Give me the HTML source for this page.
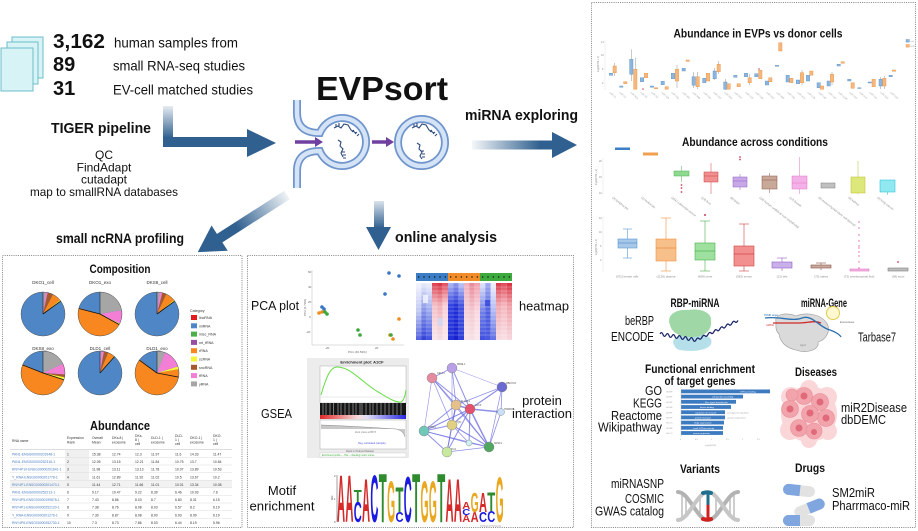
<!DOCTYPE html>
<html><head><meta charset="utf-8"><style>
html,body{margin:0;padding:0;background:#fff;}
svg{display:block;font-family:"Liberation Sans",Arial,sans-serif;}
</style></head><body>
<svg width="918" height="531" viewBox="0 0 918 531" xmlns="http://www.w3.org/2000/svg">
<defs>
<linearGradient id="gv" gradientUnits="userSpaceOnUse" x1="0" y1="106" x2="0" y2="138"><stop offset="0" stop-color="#30608f" stop-opacity="0.12"/><stop offset="1" stop-color="#30608f"/></linearGradient>
<linearGradient id="gr" gradientUnits="userSpaceOnUse" x1="472" y1="0" x2="540" y2="0"><stop offset="0" stop-color="#30608f" stop-opacity="0.05"/><stop offset="1" stop-color="#30608f"/></linearGradient>
<linearGradient id="gd" gradientUnits="userSpaceOnUse" x1="0" y1="200" x2="0" y2="228"><stop offset="0" stop-color="#30608f" stop-opacity="0.15"/><stop offset="1" stop-color="#30608f"/></linearGradient>
<linearGradient id="gdi" gradientUnits="userSpaceOnUse" x1="0" y1="0" x2="60" y2="0"><stop offset="0" stop-color="#30608f" stop-opacity="0.08"/><stop offset="1" stop-color="#30608f"/></linearGradient>
<linearGradient id="rb" x1="0" y1="0" x2="1" y2="0"><stop offset="0" stop-color="#e02828"/><stop offset="0.45" stop-color="#f6dede"/><stop offset="0.55" stop-color="#dedef6"/><stop offset="1" stop-color="#2828e0"/></linearGradient>
<linearGradient id="h0" x1="0" y1="0" x2="0" y2="1"><stop offset="0" stop-color="#f5f5ff"/><stop offset=".5" stop-color="#c0c8f0"/><stop offset="1" stop-color="#5060e0"/></linearGradient>
<linearGradient id="h1" x1="0" y1="0" x2="0" y2="1"><stop offset="0" stop-color="#e8ecfa"/><stop offset=".5" stop-color="#8090e8"/><stop offset="1" stop-color="#3040d8"/></linearGradient>
<linearGradient id="h2" x1="0" y1="0" x2="0" y2="1"><stop offset="0" stop-color="#f0f0f8"/><stop offset=".5" stop-color="#9aa8ee"/><stop offset="1" stop-color="#4050e0"/></linearGradient>
<linearGradient id="h3" x1="0" y1="0" x2="0" y2="1"><stop offset="0" stop-color="#e04050"/><stop offset=".4" stop-color="#f4c0c8"/><stop offset="1" stop-color="#f8e8ec"/></linearGradient>
<linearGradient id="h4" x1="0" y1="0" x2="0" y2="1"><stop offset="0" stop-color="#d83040"/><stop offset=".4" stop-color="#f0b0b8"/><stop offset="1" stop-color="#f4e0e8"/></linearGradient>
<linearGradient id="h5" x1="0" y1="0" x2="0" y2="1"><stop offset="0" stop-color="#e05060"/><stop offset=".4" stop-color="#f8d0d8"/><stop offset="1" stop-color="#fae8ee"/></linearGradient>
<linearGradient id="h6" x1="0" y1="0" x2="0" y2="1"><stop offset="0" stop-color="#b0b8f0"/><stop offset=".4" stop-color="#3040e0"/><stop offset="1" stop-color="#2030d8"/></linearGradient>
<linearGradient id="h7" x1="0" y1="0" x2="0" y2="1"><stop offset="0" stop-color="#9098ec"/><stop offset=".4" stop-color="#2030d8"/><stop offset="1" stop-color="#1820d0"/></linearGradient>
<linearGradient id="h8" x1="0" y1="0" x2="0" y2="1"><stop offset="0" stop-color="#c0c8f4"/><stop offset=".4" stop-color="#4050e0"/><stop offset="1" stop-color="#3040d8"/></linearGradient>
<linearGradient id="h9" x1="0" y1="0" x2="0" y2="1"><stop offset="0" stop-color="#f0b0c0"/><stop offset=".5" stop-color="#f4d0d8"/><stop offset="1" stop-color="#f8e4ea"/></linearGradient>
<linearGradient id="h10" x1="0" y1="0" x2="0" y2="1"><stop offset="0" stop-color="#e88898"/><stop offset=".5" stop-color="#f4c8d0"/><stop offset="1" stop-color="#f6e0e6"/></linearGradient>
<linearGradient id="h11" x1="0" y1="0" x2="0" y2="1"><stop offset="0" stop-color="#f0a0b0"/><stop offset=".5" stop-color="#f8d8e0"/><stop offset="1" stop-color="#fae8ee"/></linearGradient>
<linearGradient id="h12" x1="0" y1="0" x2="0" y2="1"><stop offset="0" stop-color="#e0e4f8"/><stop offset=".5" stop-color="#7080e8"/><stop offset="1" stop-color="#4050e0"/></linearGradient>
<linearGradient id="h13" x1="0" y1="0" x2="0" y2="1"><stop offset="0" stop-color="#a0acf0"/><stop offset=".5" stop-color="#5060e0"/><stop offset="1" stop-color="#4858e0"/></linearGradient>
<linearGradient id="h14" x1="0" y1="0" x2="0" y2="1"><stop offset="0" stop-color="#f0f0fa"/><stop offset=".5" stop-color="#b0b8f0"/><stop offset="1" stop-color="#6070e4"/></linearGradient>
<linearGradient id="h15" x1="0" y1="0" x2="0" y2="1"><stop offset="0" stop-color="#d83848"/><stop offset=".4" stop-color="#f0a8b0"/><stop offset="1" stop-color="#f8dce2"/></linearGradient>
<linearGradient id="h16" x1="0" y1="0" x2="0" y2="1"><stop offset="0" stop-color="#e04858"/><stop offset=".4" stop-color="#f4b8c0"/><stop offset="1" stop-color="#f8e0e6"/></linearGradient>
<linearGradient id="h17" x1="0" y1="0" x2="0" y2="1"><stop offset="0" stop-color="#d83040"/><stop offset=".4" stop-color="#f0a0a8"/><stop offset="1" stop-color="#f6d8de"/></linearGradient>
</defs>
<rect width="918" height="531" fill="#fff"/>

<!-- ===== Top-left pages + stats ===== -->
<g stroke="#6cbcc8" stroke-width="1" fill="#d8f3f6">
<rect x="12" y="37" width="31" height="41"/>
<rect x="7" y="42" width="31" height="42"/>
<rect x="1" y="48" width="32" height="43"/>
</g>
<g fill="#111">
<text x="53" y="48" font-size="20" font-weight="bold" textLength="52" lengthAdjust="spacingAndGlyphs">3,162</text>
<text x="53" y="71" font-size="20" font-weight="bold">89</text>
<text x="53" y="95" font-size="20" font-weight="bold">31</text>
<text x="114" y="47.5" font-size="14" textLength="124" lengthAdjust="spacingAndGlyphs">human samples from</text>
<text x="113" y="70.5" font-size="14" textLength="132" lengthAdjust="spacingAndGlyphs">small RNA-seq studies</text>
<text x="113" y="94.5" font-size="14" textLength="140" lengthAdjust="spacingAndGlyphs">EV-cell matched studies</text>
<text x="51" y="133" font-size="15" font-weight="bold" textLength="100" lengthAdjust="spacingAndGlyphs">TIGER pipeline</text>
<g font-size="12" text-anchor="middle">
<text x="104" y="159">QC</text>
<text x="104" y="171.3">FindAdapt</text>
<text x="104" y="183.6">cutadapt</text>
<text x="104" y="196" textLength="148" lengthAdjust="spacingAndGlyphs">map to smallRNA databases</text>
</g>
<text x="56" y="243" font-size="14" font-weight="bold" textLength="128" lengthAdjust="spacingAndGlyphs">small ncRNA profiling</text>
<text x="316" y="100" font-size="33" font-weight="bold" textLength="132" lengthAdjust="spacingAndGlyphs">EVPsort</text>
<text x="465" y="120" font-size="14.5" font-weight="bold" textLength="113" lengthAdjust="spacingAndGlyphs">miRNA exploring</text>
<text x="395" y="242" font-size="14.5" font-weight="bold" textLength="102" lengthAdjust="spacingAndGlyphs">online analysis</text>
</g>

<!-- ===== Arrows ===== -->
<rect x="163" y="106" width="10" height="41" fill="url(#gv)"/>
<path d="M163,137 H249 V147 H168 Q163,147 163,142 Z" fill="#30608f"/>
<polygon points="247,129 276,143 247,157" fill="#30608f"/>
<rect x="472" y="140.5" width="82" height="9" fill="url(#gr)"/>
<polygon points="552,132 577,145 552,158" fill="#30608f"/>
<rect x="374" y="201" width="10" height="28" fill="url(#gd)"/>
<polygon points="366,227 391,227 378.5,250" fill="#30608f"/>
<g transform="translate(287,195) rotate(147.36)">
<rect x="0" y="-5" width="82" height="10" fill="url(#gdi)"/>
<polygon points="80,-15 106,0 80,15" fill="#30608f"/>
</g>

<!-- ===== Vesicles ===== -->
<g fill="none" stroke-linecap="butt">
<path d="M297,100 L297,113 Q297,133 319.8,133 A24,24 0 1 1 319.8,151 Q297,151 297,171 L297,188" stroke="#6f95cc" stroke-width="8"/>
<path d="M297,100 L297,113 Q297,133 319.8,133 A24,24 0 1 1 319.8,151 Q297,151 297,171 L297,188" stroke="#d4e3f6" stroke-width="4.5"/>
<circle cx="421.5" cy="142.5" r="23.5" stroke="#6f95cc" stroke-width="8"/>
<circle cx="421.5" cy="142.5" r="23.5" stroke="#d4e3f6" stroke-width="4.5"/>
</g>
<g stroke="#7040a0" stroke-width="3.5" fill="#7040a0">
<line x1="295" y1="142" x2="316" y2="142"/>
<polygon points="315,137 323,142 315,147" stroke="none"/>
<line x1="372" y1="142" x2="387" y2="142"/>
<polygon points="386,137 394,142 386,147" stroke="none"/>
</g>
<g stroke="#2c4a7c" stroke-width="1.1" fill="none">
<path d="M334,128 l4,-2 l3,2 l3,-4 l4,1 l3,5 l5,3"/>
<path d="M336,127 v-3 M339,126 v-3 M352,132 l2,-2 M355,134 l2,-2 M357,136 l2,-2"/>
<path d="M338,140 l3,2 l-1,4 l3,3 l-2,4 l2,4"/>
<path d="M343,158 h3 M343,155 h3 M342,152 h3"/>
<path d="M412,128 l4,-2 l3,2 l3,-4 l4,1 l3,5 l5,3"/>
<path d="M414,127 v-3 M417,126 v-3 M430,132 l2,-2 M433,134 l2,-2 M435,136 l2,-2"/>
<path d="M417,143 l3,2 l-1,4 l3,3 l-2,4 l2,3"/>
<path d="M422,157 h3 M422,154 h3 M421,151 h3"/>
</g>

<!-- ===== Panel borders ===== -->
<g fill="none" stroke="#858585" stroke-width="1" stroke-dasharray="1 1.2">
<rect x="2.5" y="255.5" width="239.5" height="272"/>
<rect x="247.5" y="255.5" width="326" height="272"/>
<rect x="591.5" y="2.5" width="324" height="525"/>
</g>

<!-- ===== Left panel: Composition ===== -->
<text x="120" y="273" font-size="12" font-weight="bold" text-anchor="middle" textLength="61" lengthAdjust="spacingAndGlyphs" fill="#111">Composition</text>
<g font-size="4.5" fill="#333" text-anchor="middle">
<text x="43" y="284">DKO1_cell</text><text x="100" y="284">DKO1_exo</text><text x="157" y="284">DKS8_cell</text>
<text x="43" y="350">DKS8_exo</text><text x="100" y="350">DLD1_cell</text><text x="157" y="350">DLD1_exo</text>
</g>
<g transform="translate(43,314)">
<circle r="22" fill="#4f86c6"/>
<g transform="rotate(-90)" fill="none" stroke-width="22">
<circle r="11" stroke="#a6a6a6" stroke-dasharray="1.382 70"/>
<circle r="11" stroke="#f27ed6" stroke-dasharray="1.037 70" stroke-dashoffset="-1.382"/>
<circle r="11" stroke="#a6592a" stroke-dasharray="2.765 70" stroke-dashoffset="-2.419"/>
<circle r="11" stroke="#f7871e" stroke-dasharray="4.492 70" stroke-dashoffset="-5.184"/>
<circle r="11" stroke="#f5f534" stroke-dasharray="0.691 70" stroke-dashoffset="-9.676"/>
</g>
<line x1="0" y1="0" x2="17.8" y2="-12.9" stroke="#111" stroke-width="0.8"/><line x1="0" y1="0" x2="0" y2="-22" stroke="#111" stroke-width="0.5"/>
<circle r="22" fill="none" stroke="#555" stroke-width="0.5"/>
</g>
<g transform="translate(100,314)">
<circle r="22" fill="#4f86c6"/>
<g transform="rotate(-90)" fill="none" stroke-width="22">
<circle r="11" stroke="#a6a6a6" stroke-dasharray="15.205 70"/>
<circle r="11" stroke="#f27ed6" stroke-dasharray="6.912 70" stroke-dashoffset="-15.205"/>
<circle r="11" stroke="#f5f534" stroke-dasharray="0.691 70" stroke-dashoffset="-22.117"/>
<circle r="11" stroke="#f7871e" stroke-dasharray="31.793 70" stroke-dashoffset="-22.808"/>
</g>
<line x1="0" y1="0" x2="-21.3" y2="-5.5" stroke="#111" stroke-width="0.8"/><line x1="0" y1="0" x2="19.3" y2="10.6" stroke="#111" stroke-width="0.8"/><line x1="0" y1="0" x2="0" y2="-22" stroke="#111" stroke-width="0.5"/>
<circle r="22" fill="none" stroke="#555" stroke-width="0.5"/>
</g>
<g transform="translate(157,314)">
<circle r="22" fill="#4f86c6"/>
<g transform="rotate(-90)" fill="none" stroke-width="22">
<circle r="11" stroke="#a6a6a6" stroke-dasharray="1.382 70"/>
<circle r="11" stroke="#f27ed6" stroke-dasharray="1.382 70" stroke-dashoffset="-1.382"/>
<circle r="11" stroke="#a6592a" stroke-dasharray="2.073 70" stroke-dashoffset="-2.765"/>
<circle r="11" stroke="#f7871e" stroke-dasharray="4.838 70" stroke-dashoffset="-4.838"/>
<circle r="11" stroke="#f5f534" stroke-dasharray="0.691 70" stroke-dashoffset="-9.676"/>
</g>
<line x1="0" y1="0" x2="17.8" y2="-12.9" stroke="#111" stroke-width="0.8"/><line x1="0" y1="0" x2="0" y2="-22" stroke="#111" stroke-width="0.5"/>
<circle r="22" fill="none" stroke="#555" stroke-width="0.5"/>
</g>
<g transform="translate(43,373)">
<circle r="22" fill="#4f86c6"/>
<g transform="rotate(-90)" fill="none" stroke-width="22">
<circle r="11" stroke="#a6a6a6" stroke-dasharray="12.441 70"/>
<circle r="11" stroke="#f27ed6" stroke-dasharray="5.529 70" stroke-dashoffset="-12.441"/>
<circle r="11" stroke="#a6592a" stroke-dasharray="1.382 70" stroke-dashoffset="-17.97"/>
<circle r="11" stroke="#f5f534" stroke-dasharray="1.382 70" stroke-dashoffset="-19.352"/>
<circle r="11" stroke="#f7871e" stroke-dasharray="35.249 70" stroke-dashoffset="-20.735"/>
</g>
<line x1="0" y1="0" x2="-20.5" y2="-8.1" stroke="#111" stroke-width="0.8"/><line x1="0" y1="0" x2="20.9" y2="6.8" stroke="#111" stroke-width="0.8"/><line x1="0" y1="0" x2="0" y2="-22" stroke="#111" stroke-width="0.5"/>
<circle r="22" fill="none" stroke="#555" stroke-width="0.5"/>
</g>
<g transform="translate(100,373)">
<circle r="22" fill="#4f86c6"/>
<g transform="rotate(-90)" fill="none" stroke-width="22">
<circle r="11" stroke="#a6a6a6" stroke-dasharray="0.691 70"/>
<circle r="11" stroke="#f27ed6" stroke-dasharray="1.382 70" stroke-dashoffset="-0.691"/>
<circle r="11" stroke="#a6592a" stroke-dasharray="2.073 70" stroke-dashoffset="-2.073"/>
<circle r="11" stroke="#f7871e" stroke-dasharray="3.456 70" stroke-dashoffset="-4.147"/>
<circle r="11" stroke="#f5f534" stroke-dasharray="0.346 70" stroke-dashoffset="-7.603"/>
</g>
<line x1="0" y1="0" x2="14.6" y2="-16.5" stroke="#111" stroke-width="0.8"/><line x1="0" y1="0" x2="0" y2="-22" stroke="#111" stroke-width="0.5"/>
<circle r="22" fill="none" stroke="#555" stroke-width="0.5"/>
</g>
<g transform="translate(157,373)">
<circle r="22" fill="#4f86c6"/>
<g transform="rotate(-90)" fill="none" stroke-width="22">
<circle r="11" stroke="#a6a6a6" stroke-dasharray="4.147 70"/>
<circle r="11" stroke="#f27ed6" stroke-dasharray="9.676 70" stroke-dashoffset="-4.147"/>
<circle r="11" stroke="#f5f534" stroke-dasharray="1.382 70" stroke-dashoffset="-13.823"/>
<circle r="11" stroke="#f7871e" stroke-dasharray="43.542 70" stroke-dashoffset="-15.205"/>
</g>
<line x1="0" y1="0" x2="-17.8" y2="-12.9" stroke="#111" stroke-width="0.8"/><line x1="0" y1="0" x2="21.6" y2="4.1" stroke="#111" stroke-width="0.8"/><line x1="0" y1="0" x2="0" y2="-22" stroke="#111" stroke-width="0.5"/>
<circle r="22" fill="none" stroke="#555" stroke-width="0.5"/>
</g>
<g font-size="3.6" fill="#333">
<text x="190" y="312">Category</text>
<rect x="191" y="315" width="6" height="5" fill="#e41a1c"/><text x="199" y="319">lincRNA</text>
<rect x="191" y="323.3" width="6" height="5" fill="#4f86c6"/><text x="199" y="327.3">miRNA</text>
<rect x="191" y="331.6" width="6" height="5" fill="#4daf4a"/><text x="199" y="335.6">misc_RNA</text>
<rect x="191" y="339.9" width="6" height="5" fill="#984ea3"/><text x="199" y="343.9">mt_tRNA</text>
<rect x="191" y="348.2" width="6" height="5" fill="#f7871e"/><text x="199" y="352.2">rRNA</text>
<rect x="191" y="356.5" width="6" height="5" fill="#f5f534"/><text x="199" y="360.5">scRNA</text>
<rect x="191" y="364.8" width="6" height="5" fill="#a6592a"/><text x="199" y="368.8">snoRNA</text>
<rect x="191" y="373.1" width="6" height="5" fill="#f27ed6"/><text x="199" y="377.1">tRNA</text>
<rect x="191" y="381.4" width="6" height="5" fill="#a6a6a6"/><text x="199" y="385.4">yRNA</text>
</g>

<!-- ===== Left panel: Abundance table ===== -->
<text x="120" y="430" font-size="12.5" font-weight="bold" text-anchor="middle" textLength="60" lengthAdjust="spacingAndGlyphs" fill="#111">Abundance</text>
<rect x="65" y="450" width="24" height="38" fill="#f0f0f0"/>
<rect x="10" y="480.3" width="222" height="7.6" fill="#f2f2f2"/>
<g stroke="#dcdcdc" stroke-width="0.5">
<line x1="10" y1="449.5" x2="232" y2="449.5" stroke="#bbb"/>
<line x1="10" y1="457.4" x2="232" y2="457.4"/><line x1="10" y1="465" x2="232" y2="465"/><line x1="10" y1="472.6" x2="232" y2="472.6"/><line x1="10" y1="480.2" x2="232" y2="480.2"/><line x1="10" y1="487.8" x2="232" y2="487.8"/><line x1="10" y1="495.4" x2="232" y2="495.4"/><line x1="10" y1="503" x2="232" y2="503"/><line x1="10" y1="510.6" x2="232" y2="510.6"/><line x1="10" y1="518.2" x2="232" y2="518.2"/>
</g>
<g font-size="3.4" fill="#333">
<text x="12" y="442">RNA name</text>
<text x="67" y="439">Expression</text><text x="67" y="443.5">Rank</text>
<text x="92" y="439">Overall</text><text x="92" y="443.5">Mean</text>
<text x="112" y="439">DKs-8 |</text><text x="112" y="443.5">exosome</text>
<text x="135" y="437">DKs-</text><text x="135" y="441">8 |</text><text x="135" y="445">cell</text>
<text x="151" y="439">DLD-1 |</text><text x="151" y="443.5">exosome</text>
<text x="175" y="437">DLD-</text><text x="175" y="441">1 |</text><text x="175" y="445">cell</text>
<text x="190" y="439">DKO-1 |</text><text x="190" y="443.5">exosome</text>
<text x="213" y="437">DKO-</text><text x="213" y="441">1 |</text><text x="213" y="445">cell</text>
</g>
<g font-size="3.4" fill="#4a7fc0">
<text x="12" y="455.5">PAN1-ENSG00000201948-1</text>
<text x="12" y="463.1">PAN1-ENSG00000252316-1</text>
<text x="12" y="470.7">RNY4P10-ENSG00000201641-1</text>
<text x="12" y="478.3">Y_RNA-ENSG00000201778-1</text>
<text x="12" y="485.9">RNY4P1-ENSG00000201470-1</text>
<text x="12" y="493.5">PAN1-ENSG00000252213-1</text>
<text x="12" y="501.1">RNY4P5-ENSG00000199878-1</text>
<text x="12" y="508.7">RNY4P1-ENSG00000252120-1</text>
<text x="12" y="516.3">Y_RNA-ENSG00000201276-1</text>
<text x="12" y="523.9">RNY4P6-ENSG00000252730-1</text>
</g>
<g font-size="3.4" fill="#333">
<text x="67" y="455.5">1</text><text x="92" y="455.5">15.38</text><text x="112" y="455.5">12.74</text><text x="135" y="455.5">12.3</text><text x="151" y="455.5">11.97</text><text x="175" y="455.5">11.6</text><text x="190" y="455.5">14.33</text><text x="213" y="455.5">11.47</text>
<text x="67" y="463.1">2</text><text x="92" y="463.1">12.05</text><text x="112" y="463.1">13.15</text><text x="135" y="463.1">12.21</text><text x="151" y="463.1">11.84</text><text x="175" y="463.1">10.75</text><text x="190" y="463.1">13.7</text><text x="213" y="463.1">10.84</text>
<text x="67" y="470.7">3</text><text x="92" y="470.7">11.98</text><text x="112" y="470.7">13.11</text><text x="135" y="470.7">13.13</text><text x="151" y="470.7">11.78</text><text x="175" y="470.7">10.07</text><text x="190" y="470.7">13.89</text><text x="213" y="470.7">10.53</text>
<text x="67" y="478.3">4</text><text x="92" y="478.3">11.61</text><text x="112" y="478.3">12.89</text><text x="135" y="478.3">11.92</text><text x="151" y="478.3">11.02</text><text x="175" y="478.3">10.5</text><text x="190" y="478.3">13.67</text><text x="213" y="478.3">10.2</text>
<text x="67" y="485.9">5</text><text x="92" y="485.9">11.44</text><text x="112" y="485.9">12.71</text><text x="135" y="485.9">11.66</text><text x="151" y="485.9">11.01</text><text x="175" y="485.9">10.01</text><text x="190" y="485.9">13.34</text><text x="213" y="485.9">10.08</text>
<text x="67" y="493.5">6</text><text x="92" y="493.5">9.17</text><text x="112" y="493.5">10.47</text><text x="135" y="493.5">9.22</text><text x="151" y="493.5">8.39</text><text x="175" y="493.5">6.46</text><text x="190" y="493.5">10.93</text><text x="213" y="493.5">7.6</text>
<text x="67" y="501.1">7</text><text x="92" y="501.1">7.43</text><text x="112" y="501.1">8.86</text><text x="135" y="501.1">8.03</text><text x="151" y="501.1">8.7</text><text x="175" y="501.1">6.80</text><text x="190" y="501.1">8.31</text><text x="213" y="501.1">6.15</text>
<text x="67" y="508.7">8</text><text x="92" y="508.7">7.38</text><text x="112" y="508.7">8.76</text><text x="135" y="508.7">8.08</text><text x="151" y="508.7">8.03</text><text x="175" y="508.7">6.57</text><text x="190" y="508.7">8.2</text><text x="213" y="508.7">6.19</text>
<text x="67" y="516.3">9</text><text x="92" y="516.3">7.30</text><text x="112" y="516.3">8.87</text><text x="135" y="516.3">8.08</text><text x="151" y="516.3">8.00</text><text x="175" y="516.3">6.93</text><text x="190" y="516.3">8.09</text><text x="213" y="516.3">6.19</text>
<text x="67" y="523.9">10</text><text x="92" y="523.9">7.3</text><text x="112" y="523.9">8.73</text><text x="135" y="523.9">7.86</text><text x="151" y="523.9">8.03</text><text x="175" y="523.9">6.44</text><text x="190" y="523.9">8.19</text><text x="213" y="523.9">5.96</text>
</g>

<!-- ===== Middle panel ===== -->
<g fill="#111" font-size="13">
<text x="251" y="310" textLength="48" lengthAdjust="spacingAndGlyphs">PCA plot</text>
<text x="519" y="310.5" textLength="50" lengthAdjust="spacingAndGlyphs">heatmap</text>
<text x="261" y="418" textLength="31" lengthAdjust="spacingAndGlyphs">GSEA</text>
<text x="542" y="405" text-anchor="middle">protein</text>
<text x="542" y="418" text-anchor="middle" textLength="60" lengthAdjust="spacingAndGlyphs">interaction</text>
<text x="282" y="495" text-anchor="middle">Motif</text>
<text x="282" y="510.5" text-anchor="middle" textLength="65" lengthAdjust="spacingAndGlyphs">enrichment</text>
</g>
<g stroke="#bbb" stroke-width="0.5">
<line x1="312" y1="270" x2="312" y2="345"/><line x1="312" y1="345" x2="404" y2="345"/>
</g>
<g font-size="3" fill="#666">
<text x="308" y="273">60</text><text x="308" y="288">40</text><text x="308" y="303">20</text><text x="309" y="318">0</text><text x="306" y="333">-20</text>
<text x="325" y="349">-20</text><text x="375" y="349">20</text>
<text x="348" y="353">PC1 (46.54%)</text>
<text transform="translate(306,316) rotate(-90)">PC2 (6.79%)</text>
</g>
<g>
<circle cx="389" cy="273" r="1.8" fill="#3a75c4"/><circle cx="399" cy="276" r="1.8" fill="#3a75c4"/><circle cx="385" cy="294" r="1.8" fill="#3a75c4"/>
<circle cx="322" cy="307" r="1.8" fill="#3a75c4"/><circle cx="324" cy="309" r="1.8" fill="#3a75c4"/>
<circle cx="399" cy="319" r="1.8" fill="#f08c1e"/><circle cx="390" cy="335" r="1.8" fill="#f08c1e"/><circle cx="393" cy="339" r="1.8" fill="#f08c1e"/>
<circle cx="319" cy="313" r="1.8" fill="#f08c1e"/><circle cx="322" cy="312" r="1.8" fill="#f08c1e"/>
<circle cx="358" cy="330" r="1.8" fill="#3aa83a"/><circle cx="360" cy="335" r="1.8" fill="#3aa83a"/><circle cx="391" cy="335" r="1.8" fill="#3aa83a"/>
<circle cx="325" cy="312" r="1.8" fill="#3aa83a"/><circle cx="327" cy="314" r="1.8" fill="#3aa83a"/>
</g>
<rect x="416" y="273" width="32" height="8" fill="#3b7dc4"/>
<rect x="448" y="273" width="32" height="8" fill="#f28c28"/>
<rect x="480" y="273" width="32" height="8" fill="#3caa3c"/>
<g fill="#111">
<circle cx="418.7" cy="277" r="0.7"/><circle cx="424" cy="277" r="0.7"/><circle cx="429.3" cy="277" r="0.7"/><circle cx="434.7" cy="277" r="0.7"/><circle cx="440" cy="277" r="0.7"/><circle cx="445.3" cy="277" r="0.7"/>
<circle cx="450.7" cy="277" r="0.7"/><circle cx="456" cy="277" r="0.7"/><circle cx="461.3" cy="277" r="0.7"/><circle cx="466.7" cy="277" r="0.7"/><circle cx="472" cy="277" r="0.7"/><circle cx="477.3" cy="277" r="0.7"/>
<circle cx="482.7" cy="277" r="0.7"/><circle cx="488" cy="277" r="0.7"/><circle cx="493.3" cy="277" r="0.7"/><circle cx="498.7" cy="277" r="0.7"/><circle cx="504" cy="277" r="0.7"/><circle cx="509.3" cy="277" r="0.7"/>
</g>
<g>
<rect x="416" y="283" width="5.4" height="57" fill="url(#h0)"/><rect x="421.3" y="283" width="5.4" height="57" fill="url(#h1)"/><rect x="426.7" y="283" width="5.4" height="57" fill="url(#h2)"/>
<rect x="432" y="283" width="5.4" height="57" fill="url(#h3)"/><rect x="437.3" y="283" width="5.4" height="57" fill="url(#h4)"/><rect x="442.7" y="283" width="5.4" height="57" fill="url(#h5)"/>
<rect x="448" y="283" width="5.4" height="57" fill="url(#h6)"/><rect x="453.3" y="283" width="5.4" height="57" fill="url(#h7)"/><rect x="458.7" y="283" width="5.4" height="57" fill="url(#h8)"/>
<rect x="464" y="283" width="5.4" height="57" fill="url(#h9)"/><rect x="469.3" y="283" width="5.4" height="57" fill="url(#h10)"/><rect x="474.7" y="283" width="5.4" height="57" fill="url(#h11)"/>
<rect x="480" y="283" width="5.4" height="57" fill="url(#h12)"/><rect x="485.3" y="283" width="5.4" height="57" fill="url(#h13)"/><rect x="490.7" y="283" width="5.4" height="57" fill="url(#h14)"/>
<rect x="496" y="283" width="5.4" height="57" fill="url(#h15)"/><rect x="501.3" y="283" width="5.4" height="57" fill="url(#h16)"/><rect x="506.7" y="283" width="5.3" height="57" fill="url(#h17)"/>
</g>
<g stroke="#fff" stroke-width="0.4" opacity="0.6">
<line x1="416" y1="287" x2="512" y2="287"/><line x1="416" y1="291" x2="512" y2="291"/><line x1="416" y1="295" x2="512" y2="295"/><line x1="416" y1="299" x2="512" y2="299"/><line x1="416" y1="303" x2="512" y2="303"/><line x1="416" y1="307" x2="512" y2="307"/><line x1="416" y1="311" x2="512" y2="311"/><line x1="416" y1="315" x2="512" y2="315"/><line x1="416" y1="319" x2="512" y2="319"/><line x1="416" y1="323" x2="512" y2="323"/><line x1="416" y1="327" x2="512" y2="327"/><line x1="416" y1="331" x2="512" y2="331"/><line x1="416" y1="335" x2="512" y2="335"/>
</g>
<rect x="423" y="295" width="5" height="8" fill="#f4f6ff" opacity="0.8"/>
<rect x="485" y="300" width="5" height="6" fill="#3040d8" opacity="0.7"/>
<rect x="438" y="318" width="5" height="8" fill="#d0d8f8" opacity="0.8"/>
<rect x="307" y="358" width="102" height="100" fill="#ececec"/>
<text x="362" y="363.5" font-size="4" font-weight="bold" text-anchor="middle" fill="#222">Enrichment plot: A1CF</text>
<rect x="320" y="366" width="86" height="37" fill="#fff" stroke="#999" stroke-width="0.4"/>
<line x1="320" y1="397" x2="406" y2="397" stroke="#ccc" stroke-width="0.4"/>
<path d="M321,395 C326,378 330,367 337,367 C350,367 360,380 375,390 C388,398 396,403 401,402 C403,401 405,397 406,390" fill="none" stroke="#66dd44" stroke-width="1"/>
<rect x="320" y="403" width="86" height="12" fill="#151515"/>
<g stroke="#ddd" stroke-width="0.5">
<line x1="323" y1="403" x2="323" y2="415"/><line x1="326" y1="403" x2="326" y2="415"/><line x1="330" y1="403" x2="330" y2="415"/><line x1="333.5" y1="403" x2="333.5" y2="415"/><line x1="338" y1="403" x2="338" y2="415"/><line x1="341" y1="403" x2="341" y2="415"/><line x1="345" y1="403" x2="345" y2="415"/><line x1="349" y1="403" x2="349" y2="415"/><line x1="353" y1="403" x2="353" y2="415"/><line x1="356" y1="403" x2="356" y2="415"/><line x1="360" y1="403" x2="360" y2="415"/><line x1="362" y1="403" x2="362" y2="415"/><line x1="366" y1="403" x2="366" y2="415"/><line x1="370" y1="403" x2="370" y2="415"/><line x1="373" y1="403" x2="373" y2="415"/><line x1="377" y1="403" x2="377" y2="415"/><line x1="381" y1="403" x2="381" y2="415"/><line x1="385" y1="403" x2="385" y2="415"/><line x1="389" y1="403" x2="389" y2="415"/><line x1="393" y1="403" x2="393" y2="415"/><line x1="397" y1="403" x2="397" y2="415"/><line x1="401" y1="403" x2="401" y2="415"/>
</g>
<rect x="320" y="415" width="86" height="4" fill="url(#rb)"/>
<rect x="320" y="420" width="86" height="29" fill="#fff" stroke="#999" stroke-width="0.4"/>
<path d="M321,425 C350,426 380,428 396,429 C401,430 404,433 405,437 L405,429 L321,429 Z" fill="#c8c8c8"/>
<path d="M321,425 C350,426 380,428 396,429 C401,430 404,433 405,437" fill="none" stroke="#888" stroke-width="0.5"/>
<text x="355" y="433" font-size="2.5" fill="#777">Zero cross at 8573</text>
<text x="358" y="444" font-size="2.5" fill="#4a4ae0">Neg. correlated (sample)</text>
<text x="360" y="452" font-size="2.5" fill="#666" text-anchor="middle">Rank in Ordered Dataset</text>
<rect x="320" y="453" width="86" height="4" fill="#fff" stroke="#bbb" stroke-width="0.3"/>
<text x="322" y="456" font-size="2.3" fill="#3a3">Enrichment profile — Hits — Ranking metric scores</text>
<g stroke="#6a6ae0" stroke-opacity="0.75">
<line x1="452" y1="368" x2="432" y2="378" stroke-width="0.8"/><line x1="452" y1="368" x2="456" y2="405" stroke-width="0.8"/><line x1="452" y1="368" x2="470" y2="409" stroke-width="1"/><line x1="452" y1="368" x2="452" y2="425" stroke-width="0.6"/><line x1="452" y1="368" x2="502" y2="387" stroke-width="0.5"/>
<line x1="432" y1="378" x2="456" y2="405" stroke-width="1"/><line x1="432" y1="378" x2="470" y2="409" stroke-width="1"/><line x1="432" y1="378" x2="452" y2="425" stroke-width="0.7"/><line x1="432" y1="378" x2="424" y2="431" stroke-width="0.6"/><line x1="432" y1="378" x2="489" y2="447" stroke-width="0.6"/>
<line x1="502" y1="387" x2="470" y2="409" stroke-width="1.2"/><line x1="502" y1="387" x2="501" y2="412" stroke-width="0.8"/><line x1="502" y1="387" x2="456" y2="405" stroke-width="0.8"/><line x1="502" y1="387" x2="489" y2="447" stroke-width="0.7"/>
<line x1="456" y1="405" x2="470" y2="409" stroke-width="1.5"/><line x1="456" y1="405" x2="452" y2="425" stroke-width="1.3"/><line x1="456" y1="405" x2="424" y2="431" stroke-width="1"/><line x1="456" y1="405" x2="489" y2="447" stroke-width="1"/><line x1="456" y1="405" x2="447" y2="452" stroke-width="0.8"/>
<line x1="470" y1="409" x2="452" y2="425" stroke-width="1.3"/><line x1="470" y1="409" x2="424" y2="431" stroke-width="1.2"/><line x1="470" y1="409" x2="489" y2="447" stroke-width="1.5"/><line x1="470" y1="409" x2="447" y2="452" stroke-width="1"/><line x1="470" y1="409" x2="501" y2="412" stroke-width="1.4"/><line x1="470" y1="409" x2="469" y2="443" stroke-width="1"/>
<line x1="452" y1="425" x2="424" y2="431" stroke-width="1"/><line x1="452" y1="425" x2="489" y2="447" stroke-width="1.2"/><line x1="452" y1="425" x2="447" y2="452" stroke-width="1"/><line x1="452" y1="425" x2="469" y2="443" stroke-width="0.8"/>
<line x1="424" y1="431" x2="489" y2="447" stroke-width="0.8"/><line x1="424" y1="431" x2="447" y2="452" stroke-width="1"/><line x1="424" y1="431" x2="469" y2="443" stroke-width="0.8"/>
<line x1="489" y1="447" x2="447" y2="452" stroke-width="0.8"/><line x1="489" y1="447" x2="469" y2="443" stroke-width="0.8"/><line x1="501" y1="412" x2="489" y2="447" stroke-width="0.8"/>
</g>
<g stroke="#777" stroke-width="0.4">
<circle cx="452" cy="368" r="5" fill="#b9a0e6"/><circle cx="432" cy="378" r="5" fill="#e58aa0"/><circle cx="502" cy="387" r="5" fill="#6a6ad0"/>
<circle cx="456" cy="405" r="5" fill="#e6c08a"/><circle cx="470" cy="409" r="5" fill="#e5506a"/><circle cx="501" cy="412" r="3.5" fill="#c8e0f8"/>
<circle cx="452" cy="425" r="5" fill="#e0d080"/><circle cx="424" cy="431" r="5" fill="#70c8b8"/><circle cx="489" cy="447" r="5" fill="#50a860"/>
<circle cx="447" cy="452" r="5" fill="#c8e8a0"/><circle cx="469" cy="443" r="3" fill="#d0f0f0"/>
</g>
<g font-size="2.5" fill="#555">
<text x="457" y="365">MBNL1</text><text x="437" y="374">CELF1</text><text x="506" y="384">RBFOX2</text><text x="461" y="402">ELAVL1</text><text x="475" y="406">A1CF</text><text x="504" y="410">HNRNPA</text><text x="457" y="423">QKI</text><text x="428" y="428">PTBP1</text><text x="494" y="444">SRSF1</text><text x="451" y="450">TIA1</text>
</g>
<line x1="337" y1="475" x2="337" y2="522" stroke="#444" stroke-width="0.5"/>
<g font-size="2.8" fill="#444"><text x="334" y="477">2</text><text x="334" y="500">1</text><text x="334" y="523">0</text><text transform="translate(333,500) rotate(-90)">bits</text></g>
<g font-weight="bold" font-size="10" text-anchor="middle">
<text transform="translate(341,522) scale(1.11,6.69)" fill="#d42a2a">A</text>
<text transform="translate(349.35,522) scale(1.11,6.69)" fill="#d42a2a">A</text>
<text transform="translate(357.7,522) scale(1.11,2.9)" fill="#1a1ae0">C</text>
<text transform="translate(357.7,502) scale(1.31,1.74)" fill="#2e8b2e">T</text>
<text transform="translate(366.05,522) scale(1.11,6.1)" fill="#d42a2a">A</text>
<text transform="translate(374.4,522) scale(1.11,6.69)" fill="#1a1ae0">C</text>
<text transform="translate(382.75,522) scale(1.31,6.98)" fill="#2e8b2e">T</text>
<text transform="translate(391.1,522) scale(1.03,5.81)" fill="#e8a820">G</text>
<text transform="translate(399.45,522) scale(1.11,1.45)" fill="#1a1ae0">C</text>
<text transform="translate(399.45,512) scale(1.31,3.49)" fill="#2e8b2e">T</text>
<text transform="translate(407.8,522) scale(1.11,6.54)" fill="#1a1ae0">C</text>
<text transform="translate(416.15,522) scale(1.31,6.98)" fill="#2e8b2e">T</text>
<text transform="translate(424.5,522) scale(1.03,5.81)" fill="#e8a820">G</text>
<text transform="translate(432.85,522) scale(1.03,5.81)" fill="#e8a820">G</text>
<text transform="translate(441.2,522) scale(1.31,6.98)" fill="#2e8b2e">T</text>
<text transform="translate(449.55,522) scale(1.11,6.1)" fill="#d42a2a">A</text>
<text transform="translate(457.9,522) scale(1.11,6.1)" fill="#d42a2a">A</text>
<text transform="translate(466.25,522) scale(1.11,1.02)" fill="#d42a2a">A</text>
<text transform="translate(466.25,515) scale(1.11,0.87)" fill="#1a1ae0">C</text>
<text transform="translate(466.25,509) scale(1.11,1.02)" fill="#d42a2a">A</text>
<text transform="translate(474.6,522) scale(1.11,1.45)" fill="#d42a2a">A</text>
<text transform="translate(474.6,512) scale(1.03,2.8)" fill="#e8a820">G</text>
<text transform="translate(482.95,522) scale(1.11,1.45)" fill="#1a1ae0">C</text>
<text transform="translate(482.95,512) scale(1.11,2.8)" fill="#d42a2a">A</text>
<text transform="translate(491.3,522) scale(1.11,1.6)" fill="#1a1ae0">C</text>
<text transform="translate(491.3,511) scale(1.31,2.7)" fill="#2e8b2e">T</text>
<text transform="translate(499.65,522) scale(1.03,6.4)" fill="#e8a820">G</text>
</g>
<text x="480" y="526.5" font-size="2.2" fill="#777">weblogo.berkeley.edu</text>

<!-- ===== Right panel: EVPs vs donor ===== -->
<text x="758" y="37.5" font-size="11.5" font-weight="bold" text-anchor="middle" textLength="169" lengthAdjust="spacingAndGlyphs" fill="#111">Abundance in EVPs vs donor cells</text>
<line x1="605" y1="40" x2="605" y2="90" stroke="#ddd" stroke-width="0.4"/>
<g font-size="2.5" fill="#888"><text x="601" y="43">14</text><text x="601" y="56">10</text><text x="602" y="70">6</text><text x="602" y="84">2</text><text transform="translate(599,72) rotate(-90)">log2(RPM + 1)</text></g>
<g stroke="#777" stroke-width="0.4">
<line x1="631.3" y1="49.3" x2="631.3" y2="81"/><line x1="635.3" y1="57.7" x2="635.3" y2="89.3"/><line x1="677" y1="65" x2="677" y2="88"/><line x1="614.7" y1="63" x2="614.7" y2="76"/>
<line x1="693.7" y1="72" x2="693.7" y2="88"/><line x1="697.7" y1="72" x2="697.7" y2="89"/><line x1="714.7" y1="68" x2="714.7" y2="80"/><line x1="718.7" y1="61" x2="718.7" y2="74"/>
<line x1="725.3" y1="79" x2="725.3" y2="90"/><line x1="802" y1="70" x2="802" y2="85"/><line x1="832" y1="72" x2="832" y2="85"/><line x1="880.7" y1="77" x2="880.7" y2="89"/><line x1="884.3" y1="76" x2="884.3" y2="89"/><line x1="749.7" y1="74" x2="749.7" y2="85"/>
</g>
<g fill="#8db6de" stroke="#5a8fc4" stroke-width="0.4">
<rect x="609.3" y="73.3" width="3.4" height="2"/><rect x="619.6" y="86" width="3.4" height="1.2"/><rect x="629.6" y="59.3" width="3.4" height="15"/><rect x="640.3" y="77.7" width="3.4" height="4"/>
<rect x="650.3" y="86" width="3.4" height="1.2"/><rect x="661" y="81.3" width="3.4" height="3.4"/><rect x="671.3" y="73.3" width="3.4" height="5.4"/><rect x="682" y="68.3" width="3.4" height="2.7"/>
<rect x="692" y="76.7" width="3.4" height="8.6"/><rect x="702.6" y="78.3" width="3.4" height="4.4"/><rect x="713" y="71" width="3.4" height="7.7"/><rect x="723.6" y="82" width="3.4" height="7.3"/>
<rect x="733.6" y="75.3" width="3.4" height="2"/><rect x="744.3" y="73.3" width="3.4" height="3.4"/><rect x="754.6" y="73.7" width="3.4" height="3"/><rect x="765.3" y="81" width="3.4" height="4"/>
<rect x="775.3" y="65.3" width="3.4" height="1"/><rect x="786" y="75.3" width="3.4" height="6.7"/><rect x="796.3" y="80" width="3.4" height="3.7"/><rect x="806.3" y="75.3" width="3.4" height="5.7"/>
<rect x="817" y="82.7" width="3.4" height="5"/><rect x="827" y="81" width="3.4" height="5"/><rect x="837" y="64.3" width="3.4" height="1.7"/><rect x="847.6" y="79.3" width="3.4" height="1.7"/>
<rect x="857.6" y="87.7" width="3.4" height="0.8"/><rect x="868" y="82" width="3.4" height="1"/><rect x="879" y="79.3" width="3.4" height="6.7"/><rect x="889" y="75.3" width="3.4" height="1.4"/>
<rect x="906" y="39.5" width="3.4" height="2.6"/>
</g>
<g fill="#f5b77d" stroke="#e8903c" stroke-width="0.4">
<rect x="613" y="66" width="3.4" height="6.7"/><rect x="623.6" y="81.7" width="3.4" height="2"/><rect x="633.6" y="69.3" width="3.4" height="20"/><rect x="644.3" y="73.3" width="3.4" height="4.4"/>
<rect x="654.3" y="87.7" width="3.4" height="1"/><rect x="665" y="86.7" width="3.4" height="2.6"/><rect x="675.3" y="69.3" width="3.4" height="11.7"/><rect x="686" y="60" width="3.4" height="1.4"/>
<rect x="696" y="76.7" width="3.4" height="10"/><rect x="706.3" y="73.3" width="3.4" height="7.7"/><rect x="717" y="64.3" width="3.4" height="7.4"/><rect x="727" y="83.7" width="3.4" height="5.6"/>
<rect x="737" y="83.7" width="3.4" height="3"/><rect x="748" y="77.7" width="3.4" height="5"/><rect x="758.6" y="70.3" width="3.4" height="8.4"/><rect x="768.6" y="77.7" width="3.4" height="4"/>
<rect x="778.6" y="42.7" width="3.4" height="8.3"/><rect x="789.6" y="78.3" width="3.4" height="4.4"/><rect x="800.3" y="72.7" width="3.4" height="10"/><rect x="809.6" y="71" width="3.4" height="4.3"/>
<rect x="820.3" y="86" width="3.4" height="3.3"/><rect x="830.3" y="74.3" width="3.4" height="7.7"/><rect x="841" y="61.7" width="3.4" height="1.6"/><rect x="851" y="82.7" width="3.4" height="5.6"/>
<rect x="872" y="79.3" width="3.4" height="7.4"/><rect x="882.6" y="78.3" width="3.4" height="7.7"/><rect x="892.3" y="70" width="3.4" height="1.3"/>
<rect x="906" y="44.5" width="3.4" height="2.6"/>
</g>
<circle cx="643" cy="89" r="0.8" fill="#d04060"/><circle cx="759" cy="69" r="0.8" fill="#d04060"/>
<g font-size="2.2" fill="#999"><text x="910.5" y="42">cell</text><text x="910.5" y="47">EVP</text></g>
<g font-size="2.6" fill="#aaa">
<text transform="translate(609,93) rotate(40)">miR-21</text><text transform="translate(619,93) rotate(40)">miR-22</text><text transform="translate(630,93) rotate(40)">miR-92a</text><text transform="translate(640,93) rotate(40)">miR-25</text><text transform="translate(651,93) rotate(40)">miR-16</text><text transform="translate(661,93) rotate(40)">miR-10b</text><text transform="translate(671,93) rotate(40)">miR-26a</text><text transform="translate(682,93) rotate(40)">miR-451</text><text transform="translate(692,93) rotate(40)">miR-99b</text><text transform="translate(703,93) rotate(40)">miR-181</text><text transform="translate(713,93) rotate(40)">miR-100</text><text transform="translate(724,93) rotate(40)">miR-30d</text><text transform="translate(734,93) rotate(40)">miR-let7</text><text transform="translate(745,93) rotate(40)">miR-125</text><text transform="translate(755,93) rotate(40)">miR-148</text><text transform="translate(766,93) rotate(40)">miR-320</text><text transform="translate(776,93) rotate(40)">miR-486</text><text transform="translate(787,93) rotate(40)">miR-191</text><text transform="translate(797,93) rotate(40)">miR-423</text><text transform="translate(807,93) rotate(40)">miR-27b</text><text transform="translate(818,93) rotate(40)">miR-146</text><text transform="translate(828,93) rotate(40)">miR-143</text><text transform="translate(838,93) rotate(40)">miR-1246</text><text transform="translate(849,93) rotate(40)">miR-200</text><text transform="translate(859,93) rotate(40)">miR-375</text><text transform="translate(869,93) rotate(40)">miR-141</text><text transform="translate(880,93) rotate(40)">miR-203</text><text transform="translate(890,93) rotate(40)">miR-205</text>
</g>

<!-- ===== Right panel: across conditions ===== -->
<text x="755" y="146" font-size="11.5" font-weight="bold" text-anchor="middle" textLength="146" lengthAdjust="spacingAndGlyphs" fill="#111">Abundance across conditions</text>
<line x1="603" y1="158" x2="603" y2="195" stroke="#ddd" stroke-width="0.4"/>
<g font-size="2.5" fill="#888"><text x="599" y="162">20</text><text x="599" y="178">15</text><text x="599" y="194">10</text><text transform="translate(597,185) rotate(-90)">log2(RPM + 1)</text></g>
<rect x="615" y="147.5" width="15" height="2.5" fill="#3c7fc4"/>
<rect x="643" y="152.5" width="15" height="3" fill="#f0a050"/>
<g stroke-width="0.5">
<line x1="681.5" y1="166" x2="681.5" y2="182" stroke="#4caf50"/><rect x="674" y="171" width="15" height="5" fill="#8fd88f" stroke="#4caf50"/>
<line x1="711" y1="163" x2="711" y2="194" stroke="#d04040"/><rect x="704" y="172" width="14" height="10" fill="#f09090" stroke="#d04040"/><line x1="704" y1="176" x2="718" y2="176" stroke="#d04040"/>
<line x1="740" y1="174" x2="740" y2="190" stroke="#9060c0"/><rect x="733" y="177" width="14" height="10" fill="#c8a8e8" stroke="#9060c0"/><line x1="733" y1="181" x2="747" y2="181" stroke="#9060c0"/>
<line x1="769.5" y1="173" x2="769.5" y2="193" stroke="#8c564b"/><rect x="762" y="176" width="15" height="13" fill="#c8a898" stroke="#8c564b"/><line x1="762" y1="180" x2="777" y2="180" stroke="#8c564b"/>
<line x1="799.5" y1="157" x2="799.5" y2="194" stroke="#e377c2"/><rect x="792" y="176" width="15" height="13" fill="#f4b0e8" stroke="#e377c2"/><line x1="792" y1="183" x2="807" y2="183" stroke="#e377c2"/>
<rect x="821" y="183" width="14" height="5" fill="#c0c0c0" stroke="#7f7f7f"/>
<line x1="858" y1="161" x2="858" y2="194" stroke="#bcbd22"/><rect x="851" y="177" width="14" height="16" fill="#dde87a" stroke="#bcbd22"/>
<line x1="887.5" y1="180" x2="887.5" y2="195" stroke="#17becf"/><rect x="880" y="180" width="15" height="12" fill="#90e8f0" stroke="#17becf"/>
</g>
<g fill="#d04060"><circle cx="681.5" cy="185" r="0.9"/><circle cx="681.5" cy="188" r="0.9"/><circle cx="681.5" cy="192" r="0.9"/><circle cx="740" cy="157" r="0.9"/><circle cx="740" cy="159.5" r="0.9"/></g>
<g font-size="3" fill="#888">
<text transform="translate(612,198) rotate(38)">(3) lymphocyte</text><text transform="translate(641,198) rotate(38)">(1) leukocyte</text><text transform="translate(671,198) rotate(38)">(264) colorectal cancer</text><text transform="translate(701,198) rotate(38)">(19) liver</text><text transform="translate(730,198) rotate(38)">(8) brain</text><text transform="translate(759,198) rotate(38)">(18) human umbilical vein endothelial</text><text transform="translate(789,198) rotate(38)">(12) breast</text><text transform="translate(818,198) rotate(38)">(6) mesenchymal stem cell derived</text><text transform="translate(848,198) rotate(38)">(9) kidney</text><text transform="translate(877,198) rotate(38)">(4) lung cancer</text>
</g>
<line x1="603" y1="216" x2="603" y2="272" stroke="#ddd" stroke-width="0.4"/>
<g font-size="2.5" fill="#888"><text x="599" y="219">12</text><text x="599" y="233">10</text><text x="600" y="247">6</text><text x="600" y="261">2</text><text transform="translate(597,255) rotate(-90)">log2(RPM + 1)</text></g>
<g stroke-width="0.6">
<line x1="627.5" y1="229" x2="627.5" y2="258" stroke="#5a9bd5"/><line x1="623" y1="229" x2="632" y2="229" stroke="#5a9bd5"/><line x1="623" y1="258" x2="632" y2="258" stroke="#5a9bd5"/><rect x="618" y="239" width="19" height="9" fill="#a8c8e8" stroke="#5a9bd5"/><line x1="618" y1="243" x2="637" y2="243" stroke="#3a7bc5"/>
<line x1="666" y1="218" x2="666" y2="271" stroke="#f09040"/><line x1="661" y1="218" x2="671" y2="218" stroke="#f09040"/><line x1="661" y1="271" x2="671" y2="271" stroke="#f09040"/><rect x="656" y="239" width="20" height="22" fill="#f7c08a" stroke="#f09040"/><line x1="656" y1="248" x2="676" y2="248" stroke="#e07a20"/>
<line x1="705" y1="221" x2="705" y2="271" stroke="#4caf50"/><line x1="700" y1="221" x2="710" y2="221" stroke="#4caf50"/><line x1="700" y1="271" x2="710" y2="271" stroke="#4caf50"/><rect x="695" y="243" width="20" height="17" fill="#9ee09e" stroke="#4caf50"/><line x1="695" y1="251" x2="715" y2="251" stroke="#3a9a3a"/>
<line x1="744" y1="224" x2="744" y2="271" stroke="#d04040"/><line x1="739" y1="224" x2="749" y2="224" stroke="#d04040"/><line x1="739" y1="271" x2="749" y2="271" stroke="#d04040"/><rect x="734" y="246" width="20" height="20" fill="#f29090" stroke="#d04040"/><line x1="734" y1="254" x2="754" y2="254" stroke="#c02020"/>
<line x1="782" y1="258" x2="782" y2="271" stroke="#9060c0"/><line x1="777" y1="258" x2="787" y2="258" stroke="#9060c0"/><rect x="772" y="262" width="20" height="6" fill="#c9b0ea" stroke="#9060c0"/>
<line x1="821" y1="263" x2="821" y2="270" stroke="#8c564b"/><line x1="816" y1="263" x2="826" y2="263" stroke="#8c564b"/><rect x="811" y="265" width="20" height="3" fill="#c6a89c" stroke="#8c564b"/>
<rect x="850" y="269" width="19" height="2" fill="#f5b5e5" stroke="#e377c2"/>
<rect x="888" y="268" width="20" height="3" fill="#bdbdbd" stroke="#7f7f7f"/>
</g>
<g fill="#d04060"><circle cx="705" cy="215" r="1"/><circle cx="898" cy="262" r="0.9"/></g>
<g fill="#e060b0"><circle cx="859" cy="222" r="0.7"/><circle cx="859" cy="228" r="0.7"/><circle cx="859" cy="235" r="0.7"/><circle cx="859" cy="241" r="0.7"/><circle cx="859" cy="246" r="0.7"/><circle cx="859" cy="248" r="0.7"/><circle cx="859" cy="252" r="0.7"/><circle cx="859" cy="256" r="0.7"/><circle cx="859" cy="262" r="0.7"/><circle cx="859" cy="268" r="0.7"/></g>
<g font-size="3" fill="#888" text-anchor="middle">
<text x="627" y="277.5">(372) breast milk</text><text x="666" y="277.5">(1128) plasma</text><text x="705" y="277.5">(458) urine</text><text x="744" y="277.5">(383) serum</text><text x="782" y="277.5">(21) bile</text><text x="821" y="277.5">(75) saliva</text><text x="859" y="277.5">(73) cerebrospinal fluid</text><text x="898" y="277.5">(38) stool</text>
</g>

<!-- ===== Right panel lower ===== -->
<g fill="#111">
<text x="695" y="307" font-size="11.5" font-weight="bold" text-anchor="middle" textLength="49" lengthAdjust="spacingAndGlyphs">RBP-miRNA</text>
<text x="824" y="307" font-size="11.5" font-weight="bold" text-anchor="middle" textLength="46" lengthAdjust="spacingAndGlyphs">miRNA-Gene</text>
<text x="654" y="325" font-size="13" text-anchor="end" textLength="29" lengthAdjust="spacingAndGlyphs">beRBP</text>
<text x="654" y="341" font-size="13" text-anchor="end" textLength="43" lengthAdjust="spacingAndGlyphs">ENCODE</text>
<text x="858" y="341.5" font-size="13" textLength="38" lengthAdjust="spacingAndGlyphs">Tarbase7</text>
<text x="700" y="373" font-size="11.5" font-weight="bold" text-anchor="middle" textLength="110" lengthAdjust="spacingAndGlyphs">Functional enrichment</text>
<text x="700" y="385" font-size="11.5" font-weight="bold" text-anchor="middle" textLength="71" lengthAdjust="spacingAndGlyphs">of target genes</text>
<text x="795" y="376" font-size="11.5" font-weight="bold" textLength="42" lengthAdjust="spacingAndGlyphs">Diseases</text>
<text x="662" y="395" font-size="13" text-anchor="end" textLength="17" lengthAdjust="spacingAndGlyphs">GO</text>
<text x="662" y="407.7" font-size="13" text-anchor="end" textLength="29" lengthAdjust="spacingAndGlyphs">KEGG</text>
<text x="662" y="420" font-size="13" text-anchor="end" textLength="51" lengthAdjust="spacingAndGlyphs">Reactome</text>
<text x="662" y="431.5" font-size="13" text-anchor="end" textLength="64" lengthAdjust="spacingAndGlyphs">Wikipathway</text>
<text x="841" y="412" font-size="13" textLength="66" lengthAdjust="spacingAndGlyphs">miR2Disease</text>
<text x="841" y="424" font-size="13" textLength="45" lengthAdjust="spacingAndGlyphs">dbDEMC</text>
<text x="700" y="473" font-size="11.5" font-weight="bold" text-anchor="middle" textLength="40" lengthAdjust="spacingAndGlyphs">Variants</text>
<text x="810" y="472" font-size="11.5" font-weight="bold" text-anchor="middle" textLength="30" lengthAdjust="spacingAndGlyphs">Drugs</text>
<text x="664" y="488" font-size="13" text-anchor="end" textLength="53" lengthAdjust="spacingAndGlyphs">miRNASNP</text>
<text x="664" y="503" font-size="13" text-anchor="end" textLength="39" lengthAdjust="spacingAndGlyphs">COSMIC</text>
<text x="664" y="515.5" font-size="13" text-anchor="end" textLength="69" lengthAdjust="spacingAndGlyphs">GWAS catalog</text>
<text x="832" y="497" font-size="13" textLength="43" lengthAdjust="spacingAndGlyphs">SM2miR</text>
<text x="832" y="510" font-size="13" textLength="78" lengthAdjust="spacingAndGlyphs">Pharrmaco-miR</text>
</g>
<!-- RBP icon -->
<path d="M674,345 C670,339 680,333 692,334 C704,333 714,337 711,344 C708,351 690,352 680,350 C676,349 675,347 674,345 Z" fill="#b5e0ea"/>
<path d="M670,325 C666,315 676,309 688,310 C700,308 712,312 711,321 C712,331 704,337 692,337 C680,337 672,333 670,325 Z" fill="#9fd8a6"/>
<path d="M660,334 q1.5,-3 3,0.5 t3,0.5 t3,0.5 t3,0.5 t3,0.5 t3,0.5 t3,0.5 t3,0.5 t3,0.5 t3,0.5 t3,0.5 t3,0.5 t3,-1.4 t3,-1.4 t3,-1.4 t3,-1.4 t3,-1.4 t3,-1.4 t3,-1.4 t3,-1.4 t3,-1.4 t3,-1.4 t3,-1.4 t3,-1.4 t3,-1.4 t3,-1.4" fill="none" stroke="#1f2a6b" stroke-width="1.3"/>
<!-- miRNA-Gene icon -->
<path d="M776,322 C774,314 786,312 796,316 C806,312 820,314 826,322 C832,330 826,340 818,342 C820,350 806,354 796,350 C786,348 780,342 779,334 C775,330 776,326 776,322 Z" fill="#dadada" stroke="#9a9a9a" stroke-width="0.6"/>
<circle cx="833" cy="313" r="6.5" fill="#fff8d0" stroke="#e4cc50" stroke-width="1"/>
<path d="M773,323 L800,323 C808,323 814,320 821,323" fill="none" stroke="#d02828" stroke-width="1.3"/>
<path d="M765,318 C780,316 792,322 802,318 C812,314 820,328 830,330 C836,332 840,335 841,337" fill="none" stroke="#2a6fb0" stroke-width="1.3"/>
<g font-size="2.5"><text x="764" y="316" fill="#2a6fb0">TDMD target</text><text x="766" y="326" fill="#d02828">miRNA</text><text x="800" y="346" fill="#888">Ago2</text><text x="840" y="323" fill="#666">Exonuclease</text></g>
<!-- bar chart -->
<g fill="#3d7bc0">
<rect x="681" y="389.5" width="89" height="3.8"/><rect x="681" y="394.7" width="62" height="3.8"/><rect x="681" y="399.9" width="55" height="3.8"/><rect x="681" y="405.1" width="50" height="3.8"/><rect x="681" y="410.3" width="44" height="3.8"/><rect x="681" y="415.5" width="44" height="3.8"/><rect x="681" y="420.7" width="43" height="3.8"/><rect x="681" y="425.9" width="42" height="3.8"/><rect x="681" y="431.1" width="42" height="3.8"/>
</g>
<g font-size="2.2" fill="#fff">
<text x="740" y="392.5">GTPase binding</text><text x="712" y="397.7">cell junction assembly</text><text x="705" y="402.9">Ras signal transduction</text><text x="700" y="408.1">kinase binding</text><text x="695" y="413.3">regulation of transport</text><text x="695" y="418.5">protein transport</text><text x="694" y="423.7">Golgi organization</text><text x="693" y="428.9">small GTPase activity</text><text x="693" y="434.1">neuron projection</text>
</g>
<g font-size="2" fill="#999">
<text x="727" y="413.3">axonogenesis regulation</text><text x="727" y="418.5">synapse organization</text>
<text x="666" y="392.5">GO:BP</text><text x="666" y="397.7">GO:BP</text><text x="666" y="402.9">GO:BP</text><text x="666" y="408.1">GO:MF</text><text x="666" y="413.3">GO:BP</text><text x="666" y="418.5">GO:BP</text><text x="666" y="423.7">GO:CC</text><text x="666" y="428.9">GO:MF</text><text x="666" y="434.1">GO:CC</text>
<text x="680" y="440">0</text><text x="695" y="440">0.5</text><text x="711" y="440">1</text><text x="726" y="440">1.5</text><text x="742" y="440">2</text><text x="757" y="440">2.5</text>
<text x="705" y="446">-log10(FDR)</text>
</g>
<line x1="681" y1="387" x2="681" y2="437" stroke="#bbb" stroke-width="0.4"/>
<!-- disease cluster (bounded x 778-838, y 380-448) -->
<g>
<circle cx="809" cy="414" r="28" fill="#fbd6d9"/>
<circle cx="791" cy="397" r="10" fill="#fbd6d9"/><circle cx="827" cy="397" r="10" fill="#fbd6d9"/><circle cx="790" cy="430" r="10" fill="#fbd6d9"/><circle cx="828" cy="431" r="9" fill="#fbd6d9"/><circle cx="809" cy="389" r="9" fill="#fbd6d9"/><circle cx="809" cy="440" r="8" fill="#fbd6d9"/>
<g fill="#f2a4ac" stroke="#ea8c96" stroke-width="0.6">
<circle cx="804" cy="396" r="8.5"/><circle cx="820" cy="402" r="8.5"/><circle cx="790" cy="409" r="8.5"/><circle cx="826" cy="418" r="8.5"/><circle cx="799" cy="428" r="8.5"/><circle cx="814" cy="431" r="8"/><circle cx="810" cy="414" r="8.5"/><circle cx="792" cy="395" r="6"/>
</g>
<g fill="#e06a7a">
<circle cx="804" cy="396" r="3.5"/><circle cx="820" cy="402" r="3.5"/><circle cx="790" cy="409" r="3.5"/><circle cx="826" cy="418" r="3.5"/><circle cx="799" cy="428" r="3.5"/><circle cx="814" cy="432" r="3"/><circle cx="810" cy="413" r="3.5"/>
</g>
</g>
<!-- DNA -->
<g fill="none" stroke-linecap="round">
<g stroke="#bdbdbd" stroke-width="1.5">
<line x1="682" y1="494" x2="682" y2="518"/><line x1="686" y1="497" x2="686" y2="515"/><line x1="700" y1="497" x2="700" y2="515"/><line x1="716" y1="497" x2="716" y2="515"/><line x1="730" y1="497" x2="730" y2="515"/><line x1="734" y1="494" x2="734" y2="518"/>
</g>
<line x1="708" y1="493" x2="708" y2="506" stroke="#1f6f8f" stroke-width="3"/>
<line x1="708" y1="506" x2="708" y2="519" stroke="#d02020" stroke-width="3"/>
<path d="M678,492 C689,492 697,520 708,520 C719,520 727,492 738,492" stroke="#b3b3b3" stroke-width="4"/>
<path d="M678,520 C689,520 697,492 708,492 C719,492 727,520 738,520" stroke="#c6c6c6" stroke-width="4"/>
<path d="M703,493 C706,492 708,492 711,493" stroke="#1f6f8f" stroke-width="4"/>
<path d="M703,519 C706,520 708,520 711,519" stroke="#d02020" stroke-width="4"/>
</g>
<!-- pills -->
<g transform="translate(799,490.5) rotate(6)">
<rect x="-16" y="-5.5" width="32" height="11" rx="5.5" fill="#e2e2e2"/>
<path d="M1,-5.5 H-10.5 A5.5,5.5 0 0 0 -10.5,5.5 H1 Z" fill="#7fa6de"/>
</g>
<g transform="translate(809.5,508) rotate(-22)">
<rect x="-16" y="-5.5" width="32" height="11" rx="5.5" fill="#e2e2e2"/>
<path d="M-1,-5.5 H10.5 A5.5,5.5 0 0 1 10.5,5.5 H-1 Z" fill="#7fa6de"/>
</g>
<g transform="translate(799,520.5)">
<rect x="-16" y="-5.5" width="32" height="11" rx="5.5" fill="#e2e2e2"/>
<path d="M1,-5.5 H-10.5 A5.5,5.5 0 0 0 -10.5,5.5 H1 Z" fill="#7fa6de"/>
</g>
</svg>
</body></html>
